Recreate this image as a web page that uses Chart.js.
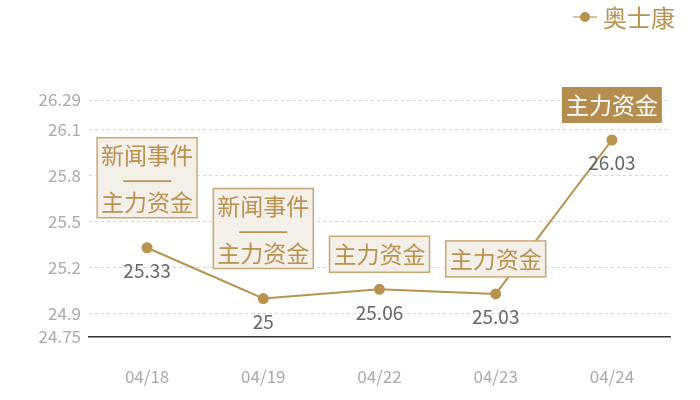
<!DOCTYPE html>
<html>
<head>
<meta charset="utf-8">
<script src="https://cdn.jsdelivr.net/npm/chart.js@4/dist/chart.umd.min.js"></script>
<style>
  html, body { margin: 0; padding: 0; background: #fff; }
  #wrap { width: 700px; height: 400px; }
</style>
</head>
<body>
<div id="wrap"><canvas id="grafico"></canvas></div>
<script>
// datos del gráfico
const fechas = ['04/18', '04/19', '04/22', '04/23', '04/24'];
const precios = [25.33, 25.00, 25.06, 25.03, 26.03];
const ticksY = [24.75, 24.9, 25.2, 25.5, 25.8, 26.1, 26.29];
const serie = '奥士康';
// notas sobre cada punto (la última va resaltada)
const notas = [
    ['新闻事件', '———', '主力资金'],
    ['新闻事件', '———', '主力资金'],
    ['主力资金'],
    ['主力资金'],
    ['主力资金']
];
const notaResaltada = 4;

const DORADO = '#b8924f';
const FUENTE = '"Noto Sans CJK SC", "Noto Sans", sans-serif';

// etiquetas de valor y cajas de notas
const pluginNotas = {
    id: 'notas',
    afterDatasetsDraw(chart) {
        const ctx = chart.ctx;
        const meta = chart.getDatasetMeta(0);
        ctx.save();
        ctx.textAlign = 'center';
        ctx.textBaseline = 'middle';

        meta.data.forEach((pt, i) => {
            // valor debajo del punto
            ctx.fillStyle = '#666';
            ctx.font = '19px ' + FUENTE;
            ctx.fillText(String(precios[i]), pt.x, pt.y + 23);

            // caja encima
            const lineas = notas[i];
            const alto = lineas.length > 1 ? 80 : 36;
            const hueco = lineas.length > 1 ? 30 : 17;
            const ancho = 100;
            const x0 = pt.x - ancho / 2;
            const y0 = pt.y - hueco - alto;
            if (i === notaResaltada) {
                ctx.fillStyle = '#b58e4f';
                ctx.fillRect(x0, y0, ancho, alto);
            } else {
                ctx.fillStyle = '#f3efe9';
                ctx.fillRect(x0, y0, ancho, alto);
                ctx.strokeStyle = '#c9a775';
                ctx.lineWidth = 1.5;
                ctx.strokeRect(x0, y0, ancho, alto);
            }
            ctx.fillStyle = i === notaResaltada ? '#fff' : DORADO;
            ctx.font = '23px ' + FUENTE;
            if (lineas.length > 1) {
                ctx.fillText(lineas[0], pt.x, y0 + 18);
                ctx.font = 'bold 20px ' + FUENTE;
                ctx.fillText(lineas[1], pt.x, y0 + 42);
                ctx.font = '23px ' + FUENTE;
                ctx.fillText(lineas[2], pt.x, y0 + 65);
            } else {
                ctx.fillText(lineas[0], pt.x, y0 + alto / 2);
            }
        });

        // leyenda arriba a la derecha
        ctx.strokeStyle = '#d9c19a';
        ctx.lineWidth = 2;
        ctx.beginPath();
        ctx.moveTo(573, 17);
        ctx.lineTo(597, 17);
        ctx.stroke();
        ctx.fillStyle = DORADO;
        ctx.beginPath();
        ctx.arc(585, 17, 5, 0, Math.PI * 2);
        ctx.fill();
        ctx.textAlign = 'left';
        ctx.font = '24px ' + FUENTE;
        ctx.fillText(serie, 603, 18);
        ctx.restore();
    }
};

new Chart(document.getElementById('grafico'), {
    type: 'line',
    data: {
        labels: fechas,
        datasets: [{
            label: serie,
            data: precios,
            borderColor: DORADO,
            backgroundColor: DORADO,
            borderWidth: 2,
            pointRadius: 4.5,
            pointHoverRadius: 4.5,
            tension: 0
        }]
    },
    options: {
        responsive: true,
        maintainAspectRatio: false,
        animation: false,
        layout: { padding: { top: 100, right: 30, left: 0, bottom: 0 } },
        plugins: { legend: { display: false }, tooltip: { enabled: false } },
        scales: {
            x: {
                offset: true,
                grid: { display: false },
                border: { display: true, color: '#333', width: 1.5 },
                ticks: { color: '#aaa', padding: 21, font: { size: 17, family: FUENTE } },
                afterFit(scale) { scale.height = 63; }
            },
            y: {
                min: 24.75,
                max: 26.29,
                afterBuildTicks(scale) { scale.ticks = ticksY.map(v => ({ value: v })); },
                grid: {
                    drawTicks: false,
                    color: c => c.tick && c.tick.value === 24.75 ? 'rgba(0,0,0,0)' : '#d5d5d5',
                    lineWidth: 1
                },
                border: { display: false, dash: [3, 3] },
                ticks: {
                    color: '#aaa',
                    padding: 8,
                    font: { size: 17, family: FUENTE },
                    callback: v => String(v)
                },
                afterFit(scale) { scale.width = 89; }
            }
        }
    },
    plugins: [pluginNotas]
});
</script>
</body>
</html>
